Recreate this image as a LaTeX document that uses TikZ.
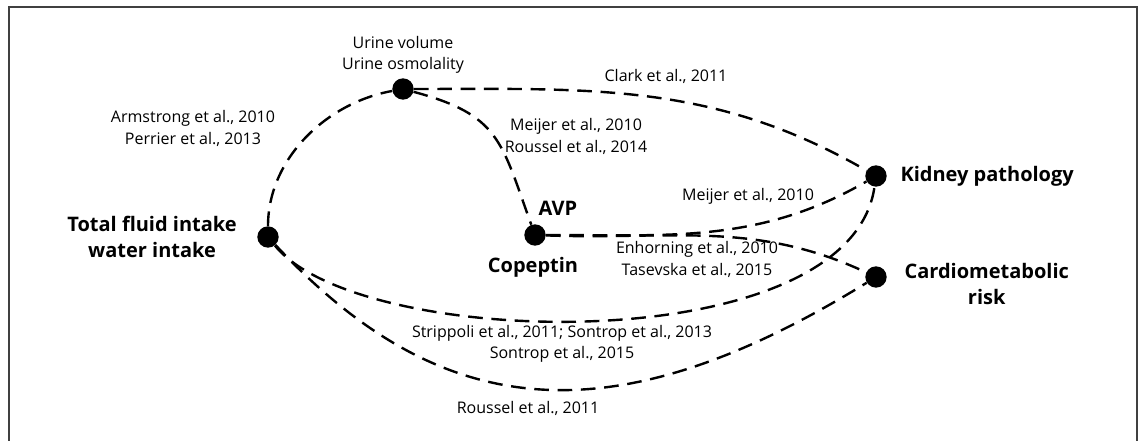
\documentclass[tikz,border=0pt]{standalone}
\usepackage{fontspec}
\setmainfont{Open Sans}
\usetikzlibrary{positioning}

\tikzset{
	blob/.style={circle, fill=black, inner sep=0pt, minimum size=16pt},
	link/.style={line width=1.8pt, dash pattern=on 11pt off 6.5pt},
	cite/.style={font=\fontsize{12}{16}\selectfont, align=center, inner sep=1pt},
	term/.style={font=\fontsize{15}{19.5}\selectfont\bfseries, align=center, inner sep=1pt},
	frame/.style={draw=black!75, line width=1.5pt},
}

\begin{document}
\begin{tikzpicture}[x=0.75pt, y=0.75pt]
	\useasboundingbox (0,0) rectangle (1143,441);
	\draw[frame] (9,0) -- (9,434) -- (1137,434) -- (1137,0);

	\node[blob] (tfi) at (268,204) {};
	\node[blob] (urine) at (403,352) {};
	\node[blob] (avp) at (535,206) {};
	\node[blob] (kid) at (876,265) {};
	\node[blob] (cmr) at (876,164) {};

	\node[term, left=14pt of tfi] (tfitxt) {Total fluid intake\\water intake};
	\node[cite, above=2pt of urine] (urinetxt) {Urine volume\\Urine osmolality};
	\node[term] (avptxt) at (558,233) {AVP};
	\node[term] (coptxt) at (533,174) {Copeptin};
	\node[term, right=9pt of kid] (kidtxt) {Kidney pathology};
	\node[term, right=12pt of cmr, yshift=-5.6pt] (cmrtxt) {Cardiometabolic\\risk};

	\node[cite] (armtxt) at (193,312.5) {Armstrong et al., 2010\\Perrier et al., 2013};
	\node[cite] (clarktxt) at (666,365) {Clark et al., 2011};
	\node[cite] (meitxt) at (576,304.5) {Meijer et al., 2010\\Roussel et al., 2014};
	\node[cite] (meikidtxt) at (748,245) {Meijer et al., 2010};
	\node[cite] (enhtxt) at (697,181.5) {Enhorning et al., 2010\\Tasevska et al., 2015};
	\node[cite] (striptxt) at (562,97) {Strippoli et al., 2011; Sontrop et al., 2013\\Sontrop et al., 2015};
	\node[cite] (rouss) at (528,33) {Roussel et al., 2011};

	\draw[link] (tfi) .. controls (268,282) and (326,338) .. (urine);
	\draw[link] (urine) .. controls (591,352) and (713,359) .. (kid);
	\draw[link] (urine) .. controls (500,326) and (501,300) .. (avp);
	\draw[link] (avp) .. controls (670,206) and (759,197.5) .. (kid);
	\draw[link] (avp) .. controls (670,201) and (754,221) .. (cmr);
	\draw[link] (tfi) .. controls (360,90) and (850,80) .. (kid);
	\draw[link] (tfi) .. controls (440,20) and (610,0) .. (cmr);
\end{tikzpicture}
\end{document}
